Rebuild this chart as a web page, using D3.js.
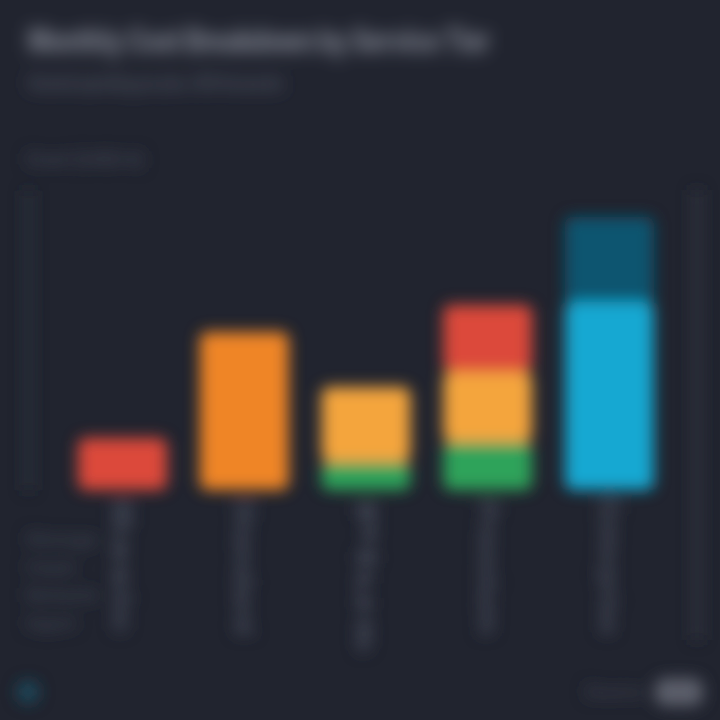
<!DOCTYPE html>
<html><head><meta charset="utf-8">
<script src="https://cdn.jsdelivr.net/npm/d3@7"></script>
<style>html,body{margin:0;padding:0;background:#21242f;}svg{display:block;}</style>
</head><body><svg id="c" width="720" height="720"></svg>
<script>
const categories = ["Basic", "Standard", "Plus", "Premium", "Enterprise"];
const seriesKeys = ["green", "amber", "red", "orange", "blue", "navy"];
const seriesNames = ["Storage", "Compute", "Network", "Support", "Analytics", "Security"];
const greenVals  = [0, 0, 28, 48, 0];
const amberVals  = [0, 0, 75, 70, 0];
const redVals    = [52, 0, 0, 67, 0];
const orangeVals = [0, 158, 0, 0, 0];
const blueVals   = [0, 0, 0, 0, 188];
const navyVals   = [0, 0, 0, 0, 85];
const yTicks = [0, 100, 200, 300];
const titleText = "Monthly Cost Breakdown by Service Tier";
const subtitleText = "Stacked spending per plan, USD thousands";
const yLabel = "Cost (USD k)";

const colors = {green:"#2fa35a", amber:"#f4a53e", red:"#dc4a3a", orange:"#ef8527", blue:"#17a8d2", navy:"#0f5570"};
const rows = categories.map((c,i)=>({cat:c, green:greenVals[i], amber:amberVals[i], red:redVals[i], orange:orangeVals[i], blue:blueVals[i], navy:navyVals[i]}));

const svg = d3.select("#c");
const defs = svg.append("defs");
defs.append("filter").attr("id","blur").attr("x","-30%").attr("y","-30%").attr("width","160%").attr("height","160%")
  .append("feGaussianBlur").attr("stdDeviation",7.5);
defs.append("filter").attr("id","blurT").attr("x","-10%").attr("y","-80%").attr("width","120%").attr("height","260%")
  .append("feGaussianBlur").attr("stdDeviation",8.5);

const x = d3.scaleBand().domain(categories).range([66, 666]).paddingInner(0.27).paddingOuter(0.1);
const y = d3.scaleLinear().domain([0, 300]).range([490, 190]);

// title
const tg = svg.append("g").attr("filter","url(#blurT)");
tg.append("text").attr("x",28).attr("y",52).attr("fill","#7e828e").attr("font-family","Inter, sans-serif")
  .attr("font-weight",800).attr("font-size",32).attr("textLength",462).attr("lengthAdjust","spacingAndGlyphs").text(titleText);
tg.append("text").attr("x",28).attr("y",90).attr("fill","#4a4e5c").attr("font-family","Inter, sans-serif")
  .attr("font-weight",800).attr("font-size",20).attr("textLength",255).attr("lengthAdjust","spacingAndGlyphs").text(subtitleText);

const g = svg.append("g").attr("filter","url(#blur)");
g.append("text").attr("x",26).attr("y",166).attr("fill","#3c404e").attr("font-family","Inter, sans-serif").attr("font-weight",800)
  .attr("font-size",19).attr("textLength",118).attr("lengthAdjust","spacingAndGlyphs").text(yLabel);

// axes lines
const yAxis = d3.axisLeft(y).tickValues(yTicks).tickSize(0).tickFormat("");
g.append("g").attr("transform","translate(28,0)").call(yAxis)
  .call(s=>s.select(".domain").attr("stroke","#2c303c").attr("stroke-width",7));
g.append("line").attr("x1",697).attr("x2",697).attr("y1",y(300)).attr("y2",640).attr("stroke","#30343f").attr("stroke-width",8);

// stacked bars
const stack = d3.stack().keys(seriesKeys)(rows);
g.selectAll("g.s").data(stack).join("g").attr("class","s").attr("fill",d=>colors[d.key])
  .selectAll("rect").data(d=>d.filter(p=>p[1]>p[0])).join("rect")
  .attr("x",d=>x(d.data.cat)).attr("width",x.bandwidth())
  .attr("y",d=>y(d[1])).attr("height",d=>y(d[0])-y(d[1])).attr("rx",8);

// x axis labels (rotated)
const xAxis = d3.axisBottom(x).tickSize(0);
const xa = g.append("g").attr("transform","translate(0,500)").call(xAxis);
xa.select(".domain").remove();
xa.selectAll("text").attr("fill","#424654").attr("font-family","Inter, sans-serif").attr("font-size",26).attr("font-weight",800)
  .attr("text-anchor","start").attr("transform","rotate(90)").attr("dy","0.35em").attr("dx",0)
  .attr("x",0).attr("y",0).attr("textLength",(d,i)=>i===2?155:135).attr("lengthAdjust","spacingAndGlyphs");

// legend on left
const lg = g.append("g").attr("transform","translate(26,546)");
seriesNames.slice(0,4).forEach((n,i)=>{
  lg.append("text").attr("x",0).attr("y",i*28).attr("fill","#393d4a").attr("font-family","Inter, sans-serif").attr("font-weight",800)
    .attr("font-size",19).attr("textLength",i%2?50:72).attr("lengthAdjust","spacingAndGlyphs").text(n);
});

// footer
g.append("circle").attr("cx",28).attr("cy",692).attr("r",11).attr("fill","#1d4a5c");
g.append("text").attr("x",585).attr("y",698).attr("fill","#3a3d4a").attr("font-family","Inter, sans-serif").attr("font-weight",800).attr("font-size",17).text("Source");
g.append("rect").attr("x",655).attr("y",678).attr("width",48).attr("height",28).attr("rx",10).attr("fill","#5c5f6b");
</script></body></html>
